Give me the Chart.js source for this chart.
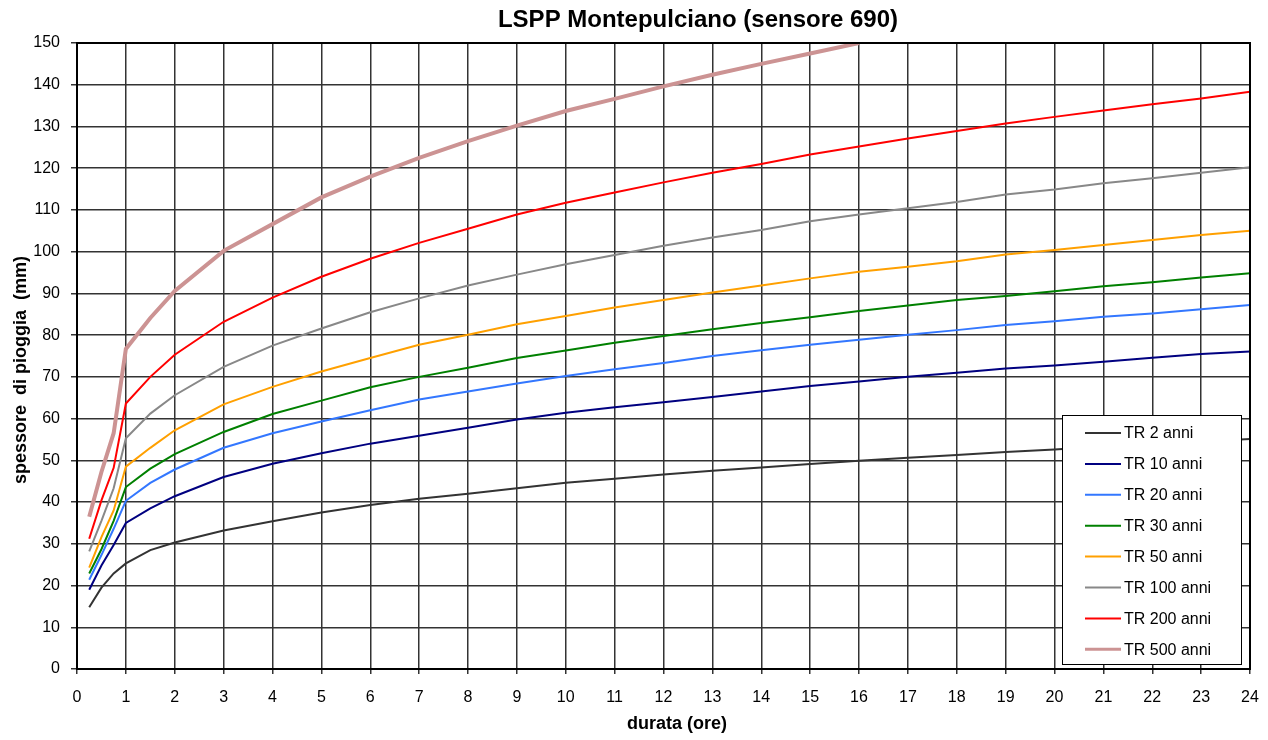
<!DOCTYPE html>
<html>
<head>
<meta charset="utf-8">
<script src="https://cdn.jsdelivr.net/npm/chart.js@4.4.1/dist/chart.umd.min.js"></script>
<style>
  body { margin: 0; background: #fff; }
  #wrap { width: 1268px; height: 740px; }
</style>
</head>
<body>
<div id="wrap"><canvas id="lspp" width="1268" height="740"></canvas></div>
<script>
// durata (ore) shared by every curve
const durata = [0.25, 0.5, 0.75, 1, 1.5, 2, 3, 4, 5, 6, 7, 8, 9, 10, 11, 12,
                13, 14, 15, 16, 17, 18, 19, 20, 21, 22, 23, 24];

// spessore di pioggia (mm) per tempo di ritorno
const tr2   = [14.8, 19.5, 22.9, 25.3, 28.5, 30.3, 33.2, 35.4, 37.5, 39.3, 40.8, 42.0, 43.3, 44.6, 45.6, 46.6,
               47.5, 48.3, 49.1, 49.9, 50.6, 51.3, 52.0, 52.6, 53.3, 53.9, 54.5, 55.1];
const tr10  = [19.0, 24.8, 29.7, 35.0, 38.5, 41.4, 46.0, 49.2, 51.7, 54.0, 55.9, 57.8, 59.8, 61.4, 62.7, 63.9,
               65.2, 66.5, 67.8, 68.9, 70.0, 71.0, 72.0, 72.7, 73.6, 74.6, 75.5, 76.1];
const tr20  = [21.4, 27.3, 33.6, 40.3, 44.6, 47.8, 53.0, 56.5, 59.3, 62.0, 64.6, 66.5, 68.4, 70.2, 71.8, 73.3,
               75.0, 76.4, 77.7, 78.9, 80.1, 81.2, 82.4, 83.3, 84.4, 85.2, 86.2, 87.2];
const tr30  = [22.9, 28.7, 35.5, 43.6, 48.0, 51.5, 56.8, 61.1, 64.3, 67.5, 70.0, 72.2, 74.5, 76.3, 78.2, 79.8,
               81.4, 82.9, 84.3, 85.8, 87.1, 88.4, 89.4, 90.5, 91.7, 92.7, 93.8, 94.8];
const tr50  = [24.3, 31.6, 38.0, 48.5, 53.0, 57.2, 63.4, 67.6, 71.3, 74.5, 77.7, 80.1, 82.6, 84.6, 86.6, 88.4,
               90.2, 91.9, 93.6, 95.2, 96.4, 97.7, 99.3, 100.4, 101.6, 102.8, 104.0, 105.0];
const tr100 = [28.2, 35.5, 43.3, 55.3, 61.2, 65.6, 72.4, 77.5, 81.6, 85.5, 88.8, 91.9, 94.5, 97.0, 99.2, 101.4,
               103.4, 105.2, 107.3, 108.9, 110.4, 111.9, 113.7, 114.9, 116.4, 117.6, 118.9, 120.2];
const tr200 = [31.2, 40.4, 48.2, 63.6, 70.0, 75.3, 83.2, 89.0, 94.0, 98.3, 102.1, 105.5, 108.9, 111.7, 114.2, 116.6,
               118.9, 121.0, 123.3, 125.2, 127.1, 128.9, 130.7, 132.3, 133.8, 135.3, 136.7, 138.3];
const tr500 = [36.5, 47.2, 56.5, 76.7, 84.1, 90.6, 100.2, 106.6, 113.0, 118.0, 122.5, 126.5, 130.2, 133.7, 136.6, 139.6,
               142.4, 145.0, 147.5, 150.0];

const yTicksMax = 150;
const xTicksMax = 24;

const titolo = 'LSPP Montepulciano (sensore 690)';
const titoloX = 'durata (ore)';
const titoloY = 'spessore  di pioggia  (mm)';

const FONT = "'Liberation Sans', Arial, sans-serif";

function serie(label, values, color, width) {
  return {
    label: label,
    data: values.map((v, i) => ({ x: durata[i], y: v })),
    borderColor: color,
    backgroundColor: color,
    borderWidth: width,
    pointRadius: 0,
    tension: 0
  };
}

// titles, frame and the boxed legend inside the plot
const decor = {
  id: 'decor',
  afterDatasetsDraw(chart) {
    const ctx = chart.ctx;
    const x0 = 1062, y0 = 415, w = 179, h = 249;
    ctx.save();
    ctx.fillStyle = '#fff';
    ctx.fillRect(x0, y0, w, h);
    ctx.strokeStyle = '#000';
    ctx.lineWidth = 1;
    ctx.strokeRect(x0 + 0.5, y0 + 0.5, w, h);
    ctx.font = '16px ' + FONT;
    ctx.textBaseline = 'middle';
    chart.data.datasets.forEach((ds, i) => {
      const y = y0 + 18 + i * 30.9;
      ctx.strokeStyle = ds.borderColor;
      ctx.lineWidth = Math.min(ds.borderWidth, 3);
      ctx.beginPath();
      ctx.moveTo(x0 + 23, y);
      ctx.lineTo(x0 + 59, y);
      ctx.stroke();
      ctx.fillStyle = '#000';
      ctx.fillText(ds.label, x0 + 62, y + 1);
    });
    ctx.restore();
  },
  afterDraw(chart) {
    const a = chart.chartArea;
    const ctx = chart.ctx;
    ctx.save();
    ctx.strokeStyle = '#000';
    ctx.lineWidth = 2;
    ctx.strokeRect(a.left, a.top, a.right - a.left, a.bottom - a.top);

    ctx.fillStyle = '#000';
    ctx.textAlign = 'center';
    ctx.textBaseline = 'middle';
    ctx.font = 'bold 24px ' + FONT;
    ctx.fillText(titolo, 698, 20);

    ctx.font = 'bold 18px ' + FONT;
    ctx.fillText(titoloX, 677, 724);

    ctx.translate(21, 370);
    ctx.rotate(-Math.PI / 2);
    ctx.fillText(titoloY, 0, 0);
    ctx.restore();
  }
};

new Chart(document.getElementById('lspp'), {
  type: 'line',
  data: {
    datasets: [
      serie('TR 2 anni', tr2, '#333333', 2),
      serie('TR 10 anni', tr10, '#000080', 2),
      serie('TR 20 anni', tr20, '#3377ff', 2),
      serie('TR 30 anni', tr30, '#008000', 2),
      serie('TR 50 anni', tr50, '#ffa000', 2),
      serie('TR 100 anni', tr100, '#888888', 2),
      serie('TR 200 anni', tr200, '#ff0000', 2),
      serie('TR 500 anni', tr500, '#cc9393', 4)
    ]
  },
  options: {
    responsive: false,
    animation: false,
    layout: { padding: { left: 0, right: 18, top: 43, bottom: 0 } },
    plugins: {
      legend: { display: false },
      tooltip: { enabled: false },
      title: { display: false }
    },
    scales: {
      x: {
        type: 'linear',
        min: 0,
        max: xTicksMax,
        afterFit(scale) {
          scale.height = 71;
          scale.paddingLeft = 0;
          scale.paddingRight = 0;
        },
        ticks: { stepSize: 1, color: '#000', font: { family: FONT, size: 16 }, padding: 14, maxRotation: 0 },
        grid: { color: '#333', lineWidth: 1.5, tickLength: 5 },
        border: { color: '#000', width: 2 }
      },
      y: {
        min: 0,
        max: yTicksMax,
        afterFit(scale) { scale.width = 77; },
        ticks: { stepSize: 10, color: '#000', font: { family: FONT, size: 16 }, padding: 11 },
        grid: { color: '#333', lineWidth: 1.5, tickLength: 6 },
        border: { color: '#000', width: 2 }
      }
    }
  },
  plugins: [decor]
});
</script>
</body>
</html>
